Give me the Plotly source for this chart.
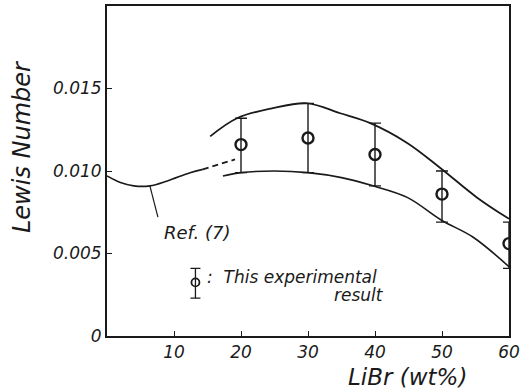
import plotly.graph_objects as go

# ---- data ----
ref7_x = [0, 2, 4, 6.4, 9, 12.4, 14.3]
ref7_y = [0.0097, 0.0093, 0.0091, 0.0091, 0.0094, 0.0099, 0.0101]
ref7_dash_x = [14.3, 16.7, 19.1]
ref7_dash_y = [0.0101, 0.0104, 0.0107]

upper_x = [15.4, 19.4, 24.6, 29.9, 34.8, 39.3, 44.8, 49.7, 55.2, 60]
upper_y = [0.0121, 0.0132, 0.0138, 0.0141, 0.0135, 0.0129, 0.0117, 0.0102, 0.0084, 0.0071]

lower_x = [17.3, 20, 25, 30, 35, 39.7, 44.8, 50, 54.6, 60]
lower_y = [0.0097, 0.0099, 0.0100, 0.0099, 0.0096, 0.0091, 0.0084, 0.0070, 0.0060, 0.0042]

exp_x = [20, 30, 40, 50, 60]
exp_y = [0.0116, 0.0120, 0.0110, 0.0086, 0.0056]
exp_hi = [0.0132, 0.0141, 0.0129, 0.0100, 0.0069]
exp_lo = [0.0099, 0.0099, 0.0091, 0.0069, 0.0041]

x_ticks = [10, 20, 30, 40, 50, 60]
y_ticks = [0, 0.005, 0.010, 0.015]
y_tick_text = ["0", "0.005", "0.010", "0.015"]

legend_x = [13.2]
legend_y = [0.00325]
legend_hi = [0.0041]
legend_lo = [0.0023]

FONT = "DejaVu Sans"
ink = "#1a1a1a"

fig = go.Figure()

fig.add_trace(go.Scatter(x=ref7_x, y=ref7_y, mode="lines", line=dict(color=ink, width=1.6, shape="spline"), showlegend=False))
fig.add_trace(go.Scatter(x=ref7_dash_x, y=ref7_dash_y, mode="lines", line=dict(color=ink, width=1.8, dash="6px,4px"), showlegend=False))
fig.add_trace(go.Scatter(x=upper_x, y=upper_y, mode="lines", line=dict(color=ink, width=1.8, shape="spline"), showlegend=False))
fig.add_trace(go.Scatter(x=lower_x, y=lower_y, mode="lines", line=dict(color=ink, width=1.6, shape="spline"), showlegend=False))

fig.add_trace(go.Scatter(
    x=exp_x, y=exp_y, mode="markers",
    marker=dict(symbol="circle-open", size=11, color=ink, line=dict(width=2.4, color=ink)),
    error_y=dict(type="data", symmetric=False,
                 array=[h - y for h, y in zip(exp_hi, exp_y)],
                 arrayminus=[y - l for l, y in zip(exp_lo, exp_y)],
                 color=ink, thickness=1.4, width=6),
    showlegend=False))

fig.add_trace(go.Scatter(
    x=legend_x, y=legend_y, mode="markers",
    marker=dict(symbol="circle-open", size=8, color=ink, line=dict(width=1.8, color=ink)),
    error_y=dict(type="data", symmetric=False,
                 array=[legend_hi[0] - legend_y[0]],
                 arrayminus=[legend_y[0] - legend_lo[0]],
                 color=ink, thickness=1.3, width=5),
    showlegend=False))

# leader line for Ref.(7)
fig.add_shape(type="line", x0=6.4, y0=0.0091, x1=7.6, y1=0.0072, line=dict(color=ink, width=1.2))

fig.add_annotation(x=13.5, y=0.00627, text="Ref. (7)", showarrow=False,
                   font=dict(family=FONT, size=18, color=ink, style="italic"))
fig.add_annotation(x=14.6, y=0.00355, text=":  This experimental", showarrow=False, xanchor="left",
                   font=dict(family=FONT, size=17, color=ink, style="italic"))
fig.add_annotation(x=37.6, y=0.00247, text="result", showarrow=False,
                   font=dict(family=FONT, size=17, color=ink, style="italic"))

# axis titles (positioned as in the reference)
fig.add_annotation(xref="paper", yref="paper", x=-0.212, y=0.575, xanchor="center", yanchor="middle",
                   text="Lewis Number", showarrow=False,
                   textangle=-90, font=dict(family=FONT, size=24, color=ink, style="italic"))
fig.add_annotation(xref="paper", yref="paper", x=0.748, y=-0.125, xanchor="center", yanchor="middle",
                   text="LiBr (wt%)", showarrow=False,
                   font=dict(family=FONT, size=23, color=ink, style="italic"))

fig.update_xaxes(range=[0, 60], tickvals=x_ticks, ticks="inside", ticklen=5, tickcolor=ink,
                 showline=True, linecolor=ink, linewidth=2, mirror=True, showgrid=False, zeroline=False,
                 tickfont=dict(family=FONT, size=17, color=ink, style="italic"))
fig.update_yaxes(range=[0, 0.02], tickvals=y_ticks, ticktext=y_tick_text, ticks="inside", ticklen=5, tickcolor=ink,
                 showline=True, linecolor=ink, linewidth=2, mirror=True, showgrid=False, zeroline=False,
                 tickfont=dict(family=FONT, size=17, color=ink, style="italic"))

fig.update_layout(width=527, height=390, margin=dict(l=107, r=18, t=4, b=54),
                  paper_bgcolor="white", plot_bgcolor="white")

fig.write_html("out.html")
